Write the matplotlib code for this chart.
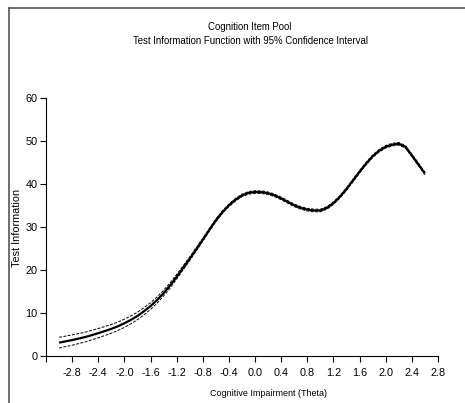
import matplotlib
matplotlib.use("Agg")
import matplotlib.pyplot as plt
from matplotlib.lines import Line2D

plt.rcParams['font.family'] = ['Liberation Sans', 'DejaVu Sans']
plt.rcParams['axes.unicode_minus'] = False

theta = [-3.0, -2.9, -2.8, -2.7, -2.6, -2.5, -2.4, -2.3, -2.2, -2.1, -2.0,
         -1.9, -1.8, -1.7, -1.6, -1.5, -1.4, -1.3, -1.2, -1.1, -1.0,
         -0.9, -0.8, -0.7, -0.6, -0.5, -0.4, -0.3, -0.2, -0.1, 0.0,
         0.1, 0.2, 0.3, 0.4, 0.5, 0.6, 0.7, 0.8, 0.9, 1.0,
         1.1, 1.2, 1.3, 1.4, 1.5, 1.6, 1.7, 1.8, 1.9, 2.0,
         2.1, 2.2, 2.3, 2.4, 2.5, 2.6]
info = [3.1, 3.4, 3.7, 4.05, 4.4, 4.85, 5.3, 5.8, 6.3, 6.9, 7.6,
        8.4, 9.3, 10.4, 11.6, 13.0, 14.6, 16.4, 18.4, 20.5, 22.6,
        24.8, 27.0, 29.3, 31.5, 33.4, 35.0, 36.3, 37.3, 37.9, 38.1,
        38.05, 37.8, 37.3, 36.6, 35.8, 35.0, 34.4, 34.0, 33.8, 33.8,
        34.4, 35.5, 37.0, 38.8, 40.8, 42.8, 44.7, 46.4, 47.7, 48.6,
        49.1, 49.3, 48.6, 46.6, 44.5, 42.4]
ci_half = [1.25, 1.22, 1.2, 1.17, 1.14, 1.11, 1.08, 1.05, 1.02, 0.98, 0.95,
           0.91, 0.87, 0.83, 0.78, 0.72, 0.66, 0.6, 0.54, 0.48, 0.43,
           0.39, 0.36, 0.34, 0.32, 0.31, 0.3, 0.3, 0.3, 0.3, 0.3,
           0.3, 0.3, 0.3, 0.3, 0.3, 0.3, 0.3, 0.3, 0.3, 0.3,
           0.3, 0.3, 0.3, 0.3, 0.3, 0.3, 0.3, 0.3, 0.3, 0.3,
           0.3, 0.3, 0.3, 0.3, 0.3, 0.3]

xticks = [-3.2, -2.8, -2.4, -2.0, -1.6, -1.2, -0.8, -0.4, 0.0, 0.4, 0.8,
          1.2, 1.6, 2.0, 2.4, 2.8]
xticklabels = ['', '-2.8', '-2.4', '-2.0', '-1.6', '-1.2', '-0.8', '-0.4', '0.0',
               '0.4', '0.8', '1.2', '1.6', '2.0', '2.4', '2.8']
yticks = [0, 10, 20, 30, 40, 50, 60]

upper = [v + h for v, h in zip(info, ci_half)]
lower = [v - h for v, h in zip(info, ci_half)]

W, H = 465, 403
fig = plt.figure(figsize=(W / 100, H / 100), dpi=100)
ax = fig.add_axes([46 / W, (H - 356) / H, (438 - 46) / W, (356 - 97.7) / H])

ax.plot(theta, info, color='black', lw=1.6, solid_capstyle='butt')
ax.plot(theta, upper, color='black', lw=0.7, linestyle=(0, (3, 1.5)))
ax.plot(theta, lower, color='black', lw=0.7, linestyle=(0, (3, 1.5)))

ax.set_xlim(-3.2, 2.8)
ax.set_ylim(0, 60)
ax.set_xticks(xticks)
ax.set_xticklabels(xticklabels, fontsize=7.8)
ax.set_yticks(yticks)
ax.set_yticklabels([str(v) for v in yticks], fontsize=7.8)
ax.tick_params(direction='out', length=4, width=0.8, pad=2, colors='black')
ax.tick_params(axis='x', pad=5)
for s in ['top', 'right']:
    ax.spines[s].set_visible(False)
for s in ['left', 'bottom']:
    ax.spines[s].set_linewidth(0.8)

fig.text(17 / W, 1 - 228 / H, 'Test Information', rotation=90, fontsize=7.8,
         ha='center', va='center')
fig.text(268.5 / W, 1 - 393 / H, 'Cognitive Impairment (Theta)', fontsize=6.5,
         ha='center', va='center')
fig.text(250 / W, 1 - 27 / H, 'Cognition Item Pool', fontsize=6.9,
         ha='center', va='center')
fig.text(250 / W, 1 - 41 / H, 'Test Information Function with 95% Confidence Interval',
         fontsize=6.9, ha='center', va='center')

fig.add_artist(Line2D([9 / W, 1], [1 - 8 / H, 1 - 8 / H], transform=fig.transFigure,
                      color='#555555', lw=1.2))
fig.add_artist(Line2D([9 / W, 9 / W], [0, 1 - 8 / H], transform=fig.transFigure,
                      color='#555555', lw=1.2))

fig.savefig('out.png', dpi=100)
